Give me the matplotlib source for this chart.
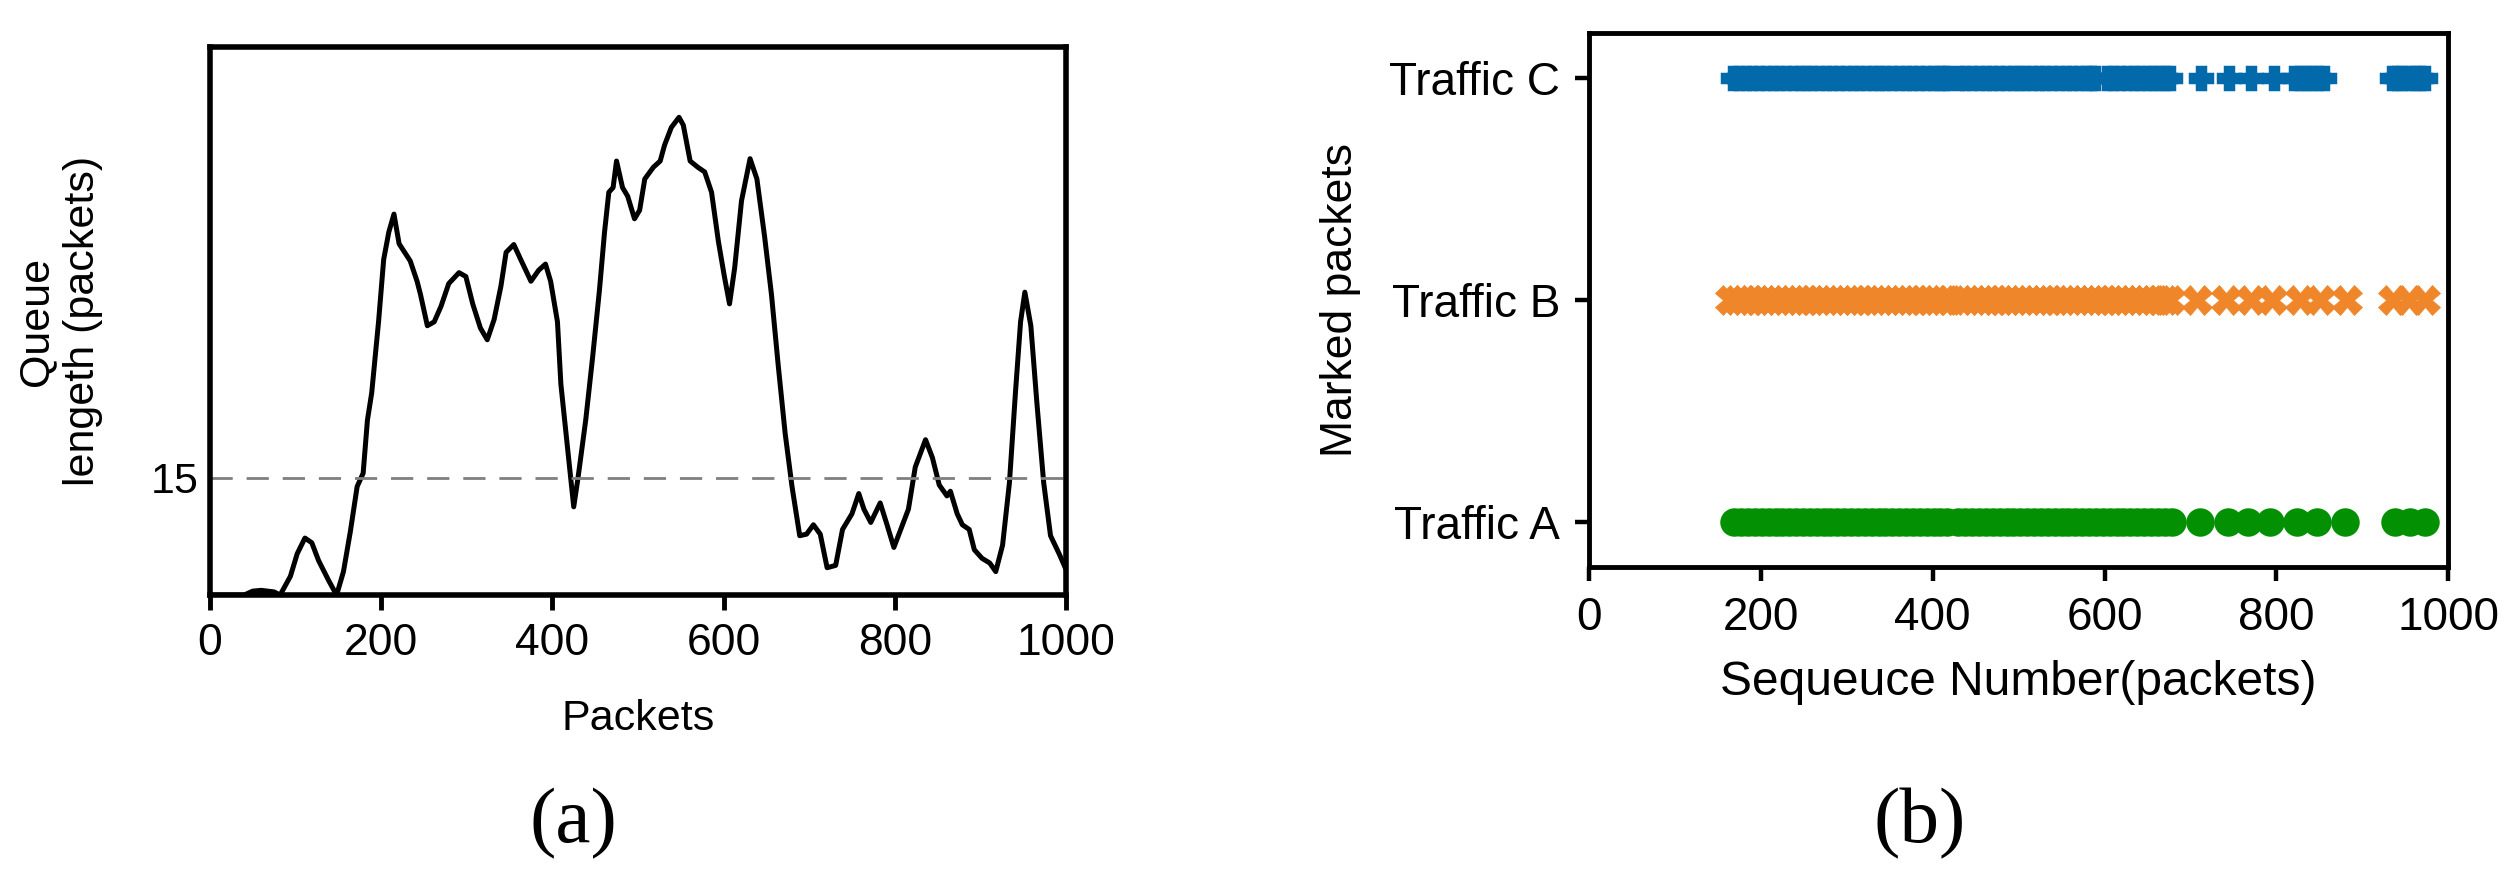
import matplotlib
matplotlib.use("Agg")
import matplotlib.pyplot as plt

plt.rcParams['font.family'] = ['Liberation Sans', 'DejaVu Sans']

# --- (a) queue length over packets ---
packets = [0, 40, 50, 60, 75, 82, 94, 102, 111, 119, 127, 139, 148, 156, 164, 172,
           179, 184, 189, 197, 203, 209, 215, 221, 234, 242, 246, 254, 262, 270,
           279, 291, 299, 307, 316, 324, 332, 340, 346, 355, 363, 375, 384, 392,
           398, 406, 410, 416, 425, 430, 439, 447, 455, 461, 466, 471, 475, 482,
           488, 496, 502, 508, 518, 526, 531, 539, 548, 553, 561, 570, 578, 586,
           594, 601, 607, 613, 621, 631, 639, 648, 656, 664, 672, 680, 689, 697,
           705, 713, 721, 731, 739, 750, 758, 764, 772, 783, 791, 799, 807, 816,
           824, 836, 844, 852, 861, 865, 873, 879, 887, 893, 902, 911, 918, 926,
           934, 941, 947, 952, 959, 966, 974, 982, 992, 1000]
queue_len = [0, 0, 0.5, 0.6, 0.4, 0, 2.4, 5.3, 7.3, 6.7, 4.4, 1.8, 0, 3.0, 8.1, 13.9,
             15.6, 22.4, 25.9, 35.0, 43.0, 46.5, 48.8, 45.0, 42.8, 40.2, 38.5, 34.5, 35.0, 37.0,
             39.9, 41.3, 40.8, 37.3, 34.2, 32.7, 35.3, 39.6, 43.9, 44.9, 43.0, 40.2, 41.6, 42.4,
             40.2, 35.0, 27.0, 20.7, 11.3, 15.0, 22.4, 30.4, 39.0, 46.5, 51.6, 52.2, 55.6, 52.2,
             51.1, 48.2, 49.3, 53.3, 54.8, 55.6, 57.6, 59.9, 61.2, 60.2, 55.6, 54.8, 54.2, 51.6,
             45.3, 40.8, 37.3, 41.9, 50.5, 55.9, 53.3, 45.9, 38.5, 29.3, 20.7, 13.9, 7.6, 7.8,
             9.0, 7.8, 3.5, 3.8, 8.4, 10.4, 13.0, 11.0, 9.3, 11.8, 9.0, 6.1, 8.4, 11.0,
             16.4, 19.9, 17.6, 14.1, 12.7, 13.3, 10.4, 9.0, 8.4, 5.8, 4.7, 4.1, 3.0, 6.4,
             14.4, 25.9, 35.0, 38.8, 34.5, 24.7, 14.4, 7.6, 5.3, 3.3]
threshold = 15

# --- (b) marked packet sequence numbers ---
traffic_labels = ['Traffic A', 'Traffic B', 'Traffic C']
marked_a = [169, 177, 185, 193, 201, 209, 217, 225, 233, 241, 249, 257, 265, 273, 281,
            289, 297, 305, 313, 321, 329, 337, 345, 353, 361, 369, 377, 385, 393, 401,
            409, 417, 430, 438, 446, 454, 462, 470, 478, 486, 494, 502, 510, 518, 526,
            534, 542, 550, 558, 566, 574, 582, 590, 598, 606, 614, 622, 630, 638, 646,
            654, 662, 670, 678, 711, 744, 767, 793, 824, 847, 880, 938, 956, 973]
marked_b = [164, 172, 180, 188, 196, 204, 212, 220, 228, 236, 244, 252, 260, 268, 276,
            284, 292, 300, 308, 316, 324, 332, 340, 348, 356, 364, 372, 380, 388, 396,
            404, 412, 419, 432, 440, 448, 456, 464, 472, 480, 488, 496, 504, 512, 520,
            528, 536, 544, 552, 560, 568, 576, 584, 592, 600, 608, 616, 624, 632, 640,
            648, 656, 664, 670, 676, 708, 741, 770, 795, 828, 851, 882, 936, 954, 973]
marked_c = [167, 175, 183, 190, 198, 206, 214, 221, 229, 237, 245, 252, 260, 268, 276,
            283, 291, 299, 307, 314, 322, 330, 338, 345, 353, 361, 369, 376, 384, 392,
            400, 407, 413, 418, 431, 438, 446, 454, 462, 469, 477, 485, 493, 500, 508,
            516, 524, 531, 539, 547, 555, 562, 570, 578, 584, 589, 603, 610, 618, 626,
            634, 641, 649, 657, 664, 670, 676, 712, 745, 770, 797, 821, 828, 835, 842,
            849, 856, 935, 941, 946, 955, 961, 967, 973]

fig = plt.figure(figsize=(25.14, 8.73), dpi=100)

# ---------------- panel (a) ----------------
ax1 = fig.add_axes([0.0835, 0.3184, 0.3405, 0.6277])
ax1.plot(packets, queue_len, color='black', linewidth=3.6,
         solid_joinstyle='round', solid_capstyle='round')
ax1.axhline(threshold, color='#7f7f7f', linewidth=2, linestyle=(0, (8, 5)))
ax1.set_xlim(0, 1000)
ax1.set_ylim(0, 70.2)
ax1.set_xticks([0, 200, 400, 600, 800, 1000])
ax1.set_yticks([threshold])
ax1.tick_params(axis='x', direction='out', length=11, width=3.5, labelsize=32, pad=9)
ax1.tick_params(axis='y', length=0, labelsize=31, pad=8)
for s in ax1.spines.values():
    s.set_linewidth(4)
ax1.set_xlabel('Packets', fontsize=31)
ax1.set_ylabel('Queue\nlengeth (packets)', fontsize=31, linespacing=1.2)
ax1.xaxis.set_label_coords(0.5, -0.19)
ax1.yaxis.set_label_coords(-0.125, 0.5)

# ---------------- panel (b) ----------------
ax2 = fig.add_axes([0.6321, 0.3505, 0.3417, 0.6117])
ax2.plot(marked_a, [0] * len(marked_a), linestyle='none', marker='o',
         markersize=20.5, markeredgewidth=0, color='#039003')
ax2.plot(marked_b, [1] * len(marked_b), linestyle='none', marker='X',
         markersize=21.5, markeredgewidth=0.5, color='#EF862A')
ax2.plot(marked_c, [2] * len(marked_c), linestyle='none', marker='P',
         markersize=15.5, markeredgewidth=2.5, color='#026AAB')
ax2.set_xlim(0, 1000)
ax2.set_ylim(-0.203, 2.203)
ax2.set_xticks([0, 200, 400, 600, 800, 1000])
ax2.set_yticks([0, 1, 2])
ax2.set_yticklabels(traffic_labels)
ax2.tick_params(axis='both', direction='out', length=10, width=3.2, labelsize=33, pad=11)
for s in ax2.spines.values():
    s.set_linewidth(3.5)
ax2.set_xlabel('Sequeuce Number(packets)', fontsize=34.5)
ax2.set_ylabel('Marked packets', fontsize=32)
ax2.xaxis.set_label_coords(0.5, -0.175)
ax2.yaxis.set_label_coords(-0.266, 0.5)

# sub-figure captions
fig.text(0.228, 0.057, '(a)', fontsize=57, ha='center', va='center',
         family=['Liberation Serif', 'DejaVu Serif'])
fig.text(0.7634, 0.057, '(b)', fontsize=57, ha='center', va='center',
         family=['Liberation Serif', 'DejaVu Serif'])

fig.savefig('out.png', dpi=100)
